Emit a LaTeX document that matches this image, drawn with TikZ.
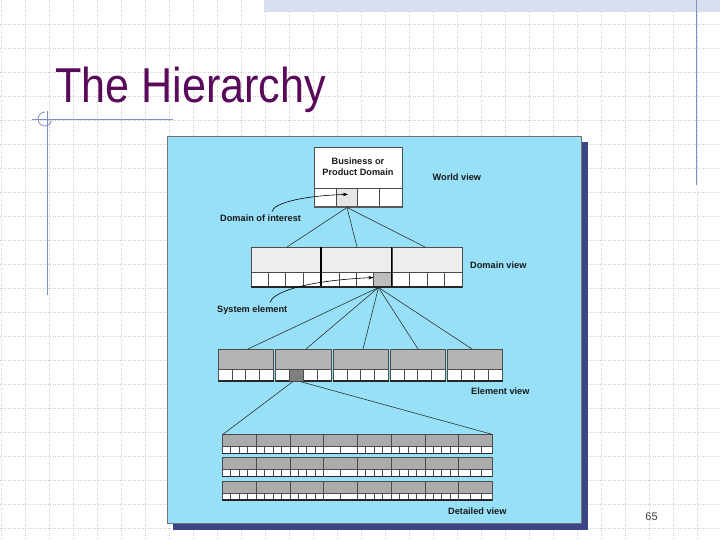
\documentclass[tikz,border=0pt]{standalone}
\usepackage{fontspec}
\setmainfont{Liberation Sans}
\setsansfont{Liberation Sans}
\usetikzlibrary{arrows.meta}
\definecolor{gridc}{HTML}{CDCDCD}
\definecolor{bandc}{HTML}{D8E0F0}
\definecolor{rulec}{HTML}{7F8FC3}
\definecolor{titlec}{HTML}{5A0A5A}
\definecolor{panelc}{HTML}{98E0F8}
\definecolor{shadowc}{HTML}{3D4589}
\definecolor{lightc}{HTML}{EDEDED}
\definecolor{cellc}{HTML}{E6E6E6}
\definecolor{midc}{HTML}{B4B4B4}
\definecolor{detc}{HTML}{ABABAB}
\definecolor{selc}{HTML}{BEBEBE}
\definecolor{darkc}{HTML}{7F7F7F}
\tikzset{
  gridline/.style={gridc, line width=0.6pt, dash pattern=on 1pt off 1.5pt},
  unitline/.style={draw=black!70, line width=0.6pt},
  conn/.style={black!85, line width=0.55pt},
  lbl/.style={font=\bfseries\fontsize{9.2}{10}\selectfont, anchor=west, inner sep=0pt, text=black!90},
  pointer/.style={black, line width=0.6pt, -{Stealth[length=5pt,width=3.5pt]}},
}
% #1 xl, #2 xr, #3 ytop, #4 ymid, #5 ybot, #6 top fill, #7 cells
\newcommand\myunit[7]{%
  \filldraw[fill=#6, unitline] (#1,#3) rectangle (#2,#4);
  \filldraw[fill=white, unitline] (#1,#4) rectangle (#2,#5);
  \foreach \k in {1,...,#7}{\ifnum\k<#7 \draw[unitline] ({#1+\k*(#2-#1)/#7},#4) -- ({#1+\k*(#2-#1)/#7},#5);\fi}
  \draw[black!85, line width=1.3pt] (#1,#5) -- (#2,#5);
}
\begin{document}
\begin{tikzpicture}[x=1pt,y=-1pt]
\useasboundingbox (0,0) rectangle (720,540);
\fill[white] (0,0) rectangle (720,540);
% background grid
\foreach \x in {1,25,...,697} \draw[gridline] (\x,0) -- (\x,540);
\foreach \y in {24,48,...,528} \draw[gridline] (0,\y) -- (720,\y);
% top band and rules
\fill[bandc] (264,0) rectangle (720,12);
\draw[rulec, line width=1.2pt] (696.7,0) -- (696.7,185);
\draw[rulec, line width=1pt] (32,119.5) -- (173,119.5);
\draw[rulec, line width=1pt] (47.5,111) -- (47.5,295);
\draw[rulec, line width=0.8pt] (45,112) arc[start angle=90, end angle=345, radius=7pt];
% title
\node[anchor=base west, inner sep=0pt, text=titlec] (title) at (55,103)
  {\scalebox{0.88}[1]{\fontsize{49}{50}\selectfont The Hierarchy}};
% panel
\fill[shadowc] (173,142) rectangle (588,530);
\filldraw[fill=panelc, draw=black!55, line width=0.5pt] (167,136) rectangle (581,523);

% world view box
\filldraw[fill=white, unitline] (314,147) rectangle (402,188);
\filldraw[fill=white, unitline] (314,188) rectangle (402,207);
\fill[cellc] (336,188.3) rectangle (357.5,206.5);
\foreach \xx in {336,357.5,379} \draw[unitline] (\xx,188) -- (\xx,207);
\draw[unitline] (314,188) rectangle (402,207);
\draw[black!65, line width=1.6pt] (314,207) -- (402,207);
\node[font=\bfseries\fontsize{9.2}{11}\selectfont, align=center, inner sep=0pt, text=black!90] (bpd) at (358,166.5) {Business or\\Product Domain};

% domain view row
\foreach \a/\b in {251/320.5, 321.5/391, 392/462} {\myunit{\a}{\b}{247}{272}{287}{lightc}{4}}
\fill[selc] (374,272.3) rectangle (390.7,286.4);
\draw[unitline] (373.7,272) rectangle (391,287);
\draw[black, line width=1.4pt] (321,247) -- (321,287);
\draw[black, line width=1.4pt] (391.5,247) -- (391.5,287);
\draw[black!85, line width=1.3pt] (251,287) -- (462,287);

% element view row
\foreach \a/\b in {218/273.5, 275.5/331, 333/388.5, 390/445.5, 447/502.5} {\myunit{\a}{\b}{349}{369}{381}{midc}{4}}
\fill[darkc] (289.4,369.3) rectangle (303.1,380.5);
\draw[unitline] (289.4,369) rectangle (303.1,381);

% detailed view rows
\foreach \ya/\yb/\yc in {434.3/446.7/453.3, 457.7/469.3/476.7, 481/493.3/500} {
  \foreach \i/\n in {0/4,1/4,2/4,3/2,4/4,5/4,6/4,7/3} {
    \pgfmathsetmacro\xl{222.3+\i*33.75}
    \pgfmathsetmacro\xr{222.3+(\i+1)*33.75}
    \myunit{\xl}{\xr}{\ya}{\yb}{\yc}{detc}{\n}
  }
}

% connection points
\coordinate (w0) at (347,207.5);
\coordinate (d1) at (287,247);
\coordinate (d2) at (357,247);
\coordinate (d3) at (425,247);
\coordinate (s0) at (378.5,287.5);
\coordinate (e1) at (248,349);
\coordinate (e2) at (306,349);
\coordinate (e3) at (363,349);
\coordinate (e4) at (418,349);
\coordinate (e5) at (472,349);
\coordinate (x1) at (293,381.5);
\coordinate (x2) at (300,381.5);
\coordinate (t1) at (223,434.3);
\coordinate (t2) at (492,434.3);
\foreach \t in {d1,d2,d3} \draw[conn] (w0) -- (\t);
\foreach \t in {e1,e2,e3,e4,e5} \draw[conn] (s0) -- (\t);
\draw[conn] (x1) -- (t1);
\draw[conn] (x2) -- (t2);

% labels
\node[lbl] (world) at (432.5,177.7) {World view};
\node[lbl] (doi) at (220,218) {Domain of interest};
\node[lbl] (domv) at (470,265) {Domain view};
\node[lbl] (syse) at (217,310) {System element};
\node[lbl] (elev) at (471,391) {Element view};
\node[lbl] (detv) at (448,511) {Detailed view};

% pointers
\coordinate (doitip) at (348,194.3);
\coordinate (systip) at (373.5,277.5);
\draw[pointer] ([xshift=52pt,yshift=3pt]doi.north west) .. controls +(2,-8) and (300,196) .. (doitip);
\draw[pointer] ([xshift=53pt,yshift=3pt]syse.north west) .. controls +(2,-9) and (300,281) .. (systip);

% page number
\node[font=\fontsize{11}{12}\selectfont, text=black!75, inner sep=0pt] (pnum) at (651.5,517) {65};
\end{tikzpicture}
\end{document}
